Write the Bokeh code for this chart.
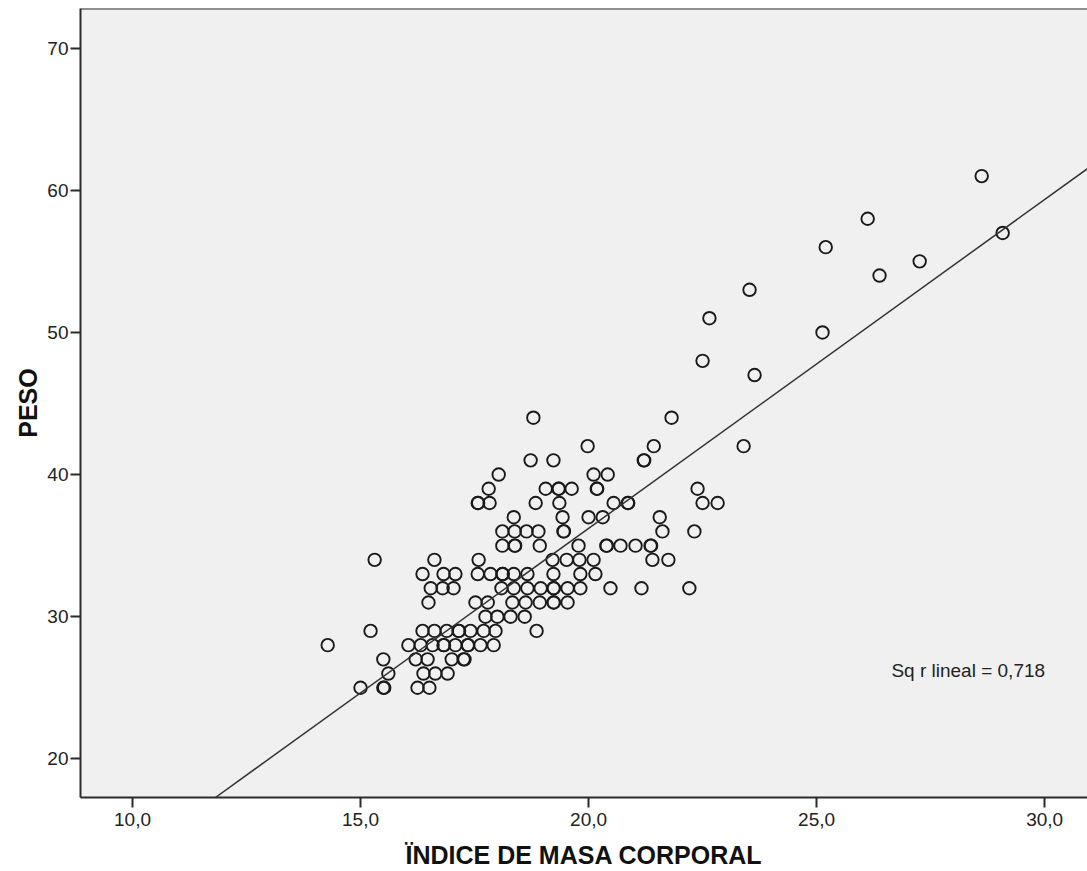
from bokeh.plotting import figure
from bokeh.models import FixedTicker, CustomJSTickFormatter, Label, Span, Slope
from bokeh.embed import file_html
from bokeh.resources import INLINE

# Body mass index (x) and weight (y) of each case
imc = [
    15.00, 15.50, 15.52, 16.25, 16.51,                                   # 25
    15.61, 16.38, 16.64, 16.91,                                          # 26
    15.50, 16.21, 16.47, 17.00, 17.26, 17.28,                            # 27
    14.28, 16.05, 16.32, 16.58, 16.82, 16.83, 17.08, 17.35, 17.36, 17.63, 17.92,  # 28
    15.22, 16.36, 16.62, 16.89, 17.15, 17.16, 17.41, 17.70, 17.96, 18.86,  # 29
    17.74, 18.00, 18.29, 18.60,                                          # 30
    16.49, 17.52, 17.79, 18.33, 18.62, 18.93, 19.23, 19.24, 19.54,       # 31
    16.54, 16.80, 17.04, 18.09, 18.36, 18.66, 18.95, 19.23, 19.24, 19.54, 19.82, 20.48, 21.16, 22.21,  # 32
    16.36, 16.82, 17.08, 17.57, 17.85, 18.11, 18.12, 18.36, 18.66, 19.23, 19.82, 20.15,  # 33
    15.31, 16.62, 17.59, 19.21, 19.52, 19.80, 20.11, 21.40, 21.75,       # 34
    18.11, 18.38, 18.39, 18.93, 19.78, 20.39, 20.40, 20.70, 21.03, 21.36, 21.37,  # 35
    18.11, 18.38, 18.64, 18.90, 19.45, 19.46, 21.62, 22.32,              # 36
    18.36, 19.43, 20.00, 20.31, 21.56,                                   # 37
    17.57, 17.58, 17.83, 18.84, 19.36, 20.55, 20.86, 20.87, 22.50, 22.83,  # 38
    17.81, 19.06, 19.34, 19.35, 19.63, 20.18, 20.19, 22.39,              # 39
    18.03, 20.11, 20.42,                                                 # 40
    18.73, 19.23, 21.21, 21.22,                                          # 41
    19.98, 21.43, 23.40,                                                 # 42
    18.79, 21.82,                                                        # 44
    23.64, 22.50, 25.13, 22.65, 23.53, 26.38, 27.26, 25.20, 29.08, 26.12, 28.62,
]
peso = [
    25, 25, 25, 25, 25,
    26, 26, 26, 26,
    27, 27, 27, 27, 27, 27,
    28, 28, 28, 28, 28, 28, 28, 28, 28, 28, 28,
    29, 29, 29, 29, 29, 29, 29, 29, 29, 29,
    30, 30, 30, 30,
    31, 31, 31, 31, 31, 31, 31, 31, 31,
    32, 32, 32, 32, 32, 32, 32, 32, 32, 32, 32, 32, 32, 32,
    33, 33, 33, 33, 33, 33, 33, 33, 33, 33, 33, 33,
    34, 34, 34, 34, 34, 34, 34, 34, 34,
    35, 35, 35, 35, 35, 35, 35, 35, 35, 35, 35,
    36, 36, 36, 36, 36, 36, 36, 36,
    37, 37, 37, 37, 37,
    38, 38, 38, 38, 38, 38, 38, 38, 38, 38,
    39, 39, 39, 39, 39, 39, 39, 39,
    40, 40, 40,
    41, 41, 41, 41,
    42, 42, 42,
    44, 44,
    47, 48, 50, 51, 53, 54, 55, 56, 57, 58, 61,
]

# Linear fit shown on the chart
fit_slope = 2.314
fit_intercept = -10.07
r2_text = "Sq r lineal = 0,718"

x_ticks = [10, 15, 20, 25, 30]
y_ticks = [20, 30, 40, 50, 60, 70]
x_label = "ÏNDICE DE MASA CORPORAL"
y_label = "PESO"

FONT = "Liberation Sans"
INK = "#2b2b2b"

X0, X1 = 8.86, 30.94
Y0, Y1 = 17.28, 72.79

p = figure(
    width=1087, height=871,
    x_range=(X0, X1), y_range=(Y0, Y1),
    output_backend="svg", toolbar_location=None,
    min_border_left=80, min_border_right=0,
    min_border_top=8, min_border_bottom=74,
)
p.background_fill_color = "#f0f0f0"
p.border_fill_color = "white"
p.outline_line_color = None
p.grid.visible = False

p.add_layout(Span(location=Y1, dimension="width", line_color=INK, line_width=2))

p.add_layout(Slope(gradient=fit_slope, y_intercept=fit_intercept,
                   line_color="#333333", line_width=1.5))

p.scatter(imc, peso, marker="circle", size=12.5, fill_color=None,
          line_color="#1a1a1a", line_width=1.9)

p.add_layout(Label(x=26.64, y=26.2, text=r2_text, text_font=FONT,
                   text_font_size="19px", text_color="#222222",
                   text_baseline="middle", text_align="left"))

p.xaxis.ticker = FixedTicker(ticks=x_ticks)
p.yaxis.ticker = FixedTicker(ticks=y_ticks)
p.xaxis.formatter = CustomJSTickFormatter(code="return tick.toFixed(1).replace('.', ',');")
p.xaxis.axis_label = x_label
p.yaxis.axis_label = y_label

for ax in (p.xaxis, p.yaxis):
    ax.axis_line_color = INK
    ax.axis_line_width = 2
    ax.major_tick_line_color = INK
    ax.major_tick_line_width = 2
    ax.major_tick_in = 0
    ax.minor_tick_line_color = None
    ax.major_label_text_font = FONT
    ax.major_label_text_font_size = "19px"
    ax.major_label_text_color = "#222222"
    ax.axis_label_text_font = FONT
    ax.axis_label_text_font_style = "bold"
    ax.axis_label_text_font_size = "25px"
    ax.axis_label_text_color = "#111111"

p.xaxis.major_tick_out = 10
p.xaxis.major_label_standoff = 5
p.xaxis.axis_label_standoff = 12
p.yaxis.major_tick_out = 10
p.yaxis.major_label_standoff = 2
p.yaxis.axis_label_standoff = 2

open("out.html", "w").write(file_html(p, INLINE))
